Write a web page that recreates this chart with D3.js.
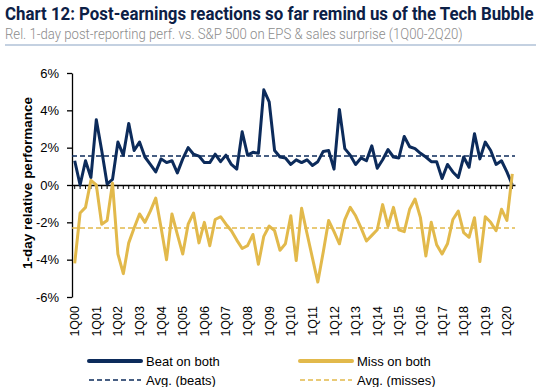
<!DOCTYPE html>
<html>
<head>
<meta charset="utf-8">
<script src="https://cdn.jsdelivr.net/npm/d3@7"></script>
<style>
  body { margin: 0; background: #fff; }
  svg { display: block; font-family: "Liberation Sans", Arial, sans-serif; }
</style>
</head>
<body>
<svg id="chart" width="540" height="387"></svg>
<script>
// year labels shown on the x axis (first quarter of each year)
const yearLabels = ['1Q00', '1Q01', '1Q02', '1Q03', '1Q04', '1Q05', '1Q06', '1Q07', '1Q08', '1Q09', '1Q10',
                    '1Q11', '1Q12', '1Q13', '1Q14', '1Q15', '1Q16', '1Q17', '1Q18', '1Q19', '1Q20'];

// every quarter 1Q00 .. 2Q20
const quarters = [];
yearLabels.forEach(lbl => {
    const yy = lbl.slice(2);
    for (let q = 1; q <= 4; q++) quarters.push(q + 'Q' + yy);
});
quarters.length = 82;

// rel. 1-day performance, %
const beatOnBoth = [
    1.3, 0.0, 1.3, 0.4, 3.5, 1.85, 0.05, 0.3, 2.3, 1.6,
    3.3, 1.85, 2.3, 1.5, 1.1, 0.7, 1.4, 1.2, 1.3, 0.65,
    1.4, 2.0, 1.65, 1.55, 1.2, 1.2, 1.65, 1.25, 1.6, 1.1,
    0.85, 2.85, 1.6, 1.75, 1.7, 5.1, 4.45, 1.85, 1.5, 1.45,
    1.1, 1.35, 1.2, 1.35, 1.05, 1.25, 1.8, 1.85, 0.85, 4.05,
    1.95, 1.6, 1.1, 1.45, 1.3, 2.1, 0.9, 1.35, 1.9, 1.5,
    1.45, 2.6, 2.05, 1.95, 1.7, 1.5, 1.25, 1.25, 0.35, 1.1,
    0.7, 0.4, 1.5, 0.95, 2.75, 1.4, 2.3, 1.85, 1.1, 1.3,
    0.7, 0.0
];
const missOnBoth = [
    -4.2, -1.5, -1.2, 0.25, 0.0, -2.1, -1.9, 0.1, -3.7, -4.75,
    -3.1, -2.3, -1.55, -2.0, -1.4, -0.7, -2.3, -4.0, -1.55, -2.65,
    -3.7, -2.1, -1.5, -3.1, -2.0, -3.25, -1.85, -1.7, -2.1, -2.45,
    -2.95, -3.4, -3.25, -2.65, -4.25, -2.75, -2.2, -2.45, -3.5, -3.15,
    -1.65, -4.05, -1.25, -2.6, -3.9, -5.2, -3.6, -1.9, -2.5, -3.15,
    -1.85, -1.2, -1.65, -2.3, -3.0, -2.7, -2.4, -1.05, -2.2, -1.2,
    -2.4, -2.5, -1.3, -0.75, -1.75, -3.8, -2.0, -3.2, -3.7, -3.15,
    -1.85, -1.4, -2.55, -2.8, -1.75, -4.1, -1.7, -2.0, -2.45, -1.3,
    -1.9, 0.6
];
const avgBeats = 1.55;
const avgMisses = -2.3;
const yTicks = [-6, -4, -2, 0, 2, 4, 6];

const navy = '#0c2b5b';
const gold = '#e2b94b';

const svg = d3.select('#chart');

// squeeze a text horizontally so it spans the given width (condensed house font)
function fitText(sel, x, yPos, width) {
    const w = sel.node().getComputedTextLength();
    sel.attr('transform', `translate(${x},${yPos}) scale(${Math.min(1, width / w)},1)`);
}

// title block
const title = svg.append('text')
    .style('font-family', 'Roboto, "Liberation Sans", sans-serif')
    .style('font-weight', 700).style('font-size', '19px')
    .style('fill', '#0c2046')
    .text('Chart 12: Post-earnings reactions so far remind us of the Tech Bubble');
fitText(title, 5, 20, 529);

const subtitle = svg.append('text')
    .style('font-family', 'Roboto, "Liberation Sans", sans-serif')
    .style('font-weight', 300).style('font-size', '14px')
    .style('fill', '#8c8c8c')
    .text('Rel. 1-day post-reporting perf. vs. S&P 500 on EPS & sales surprise (1Q00-2Q20)');
fitText(subtitle, 5, 39, 458);

svg.append('line')
    .attr('x1', 5).attr('x2', 536).attr('y1', 45).attr('y2', 45)
    .style('stroke', '#8aa3c4').style('stroke-width', 1.2);

// scales
const x = d3.scaleBand().domain(quarters).range([72, 515]);
const y = d3.scaleLinear().domain([-6, 6]).range([297, 73]);
const cx = q => x(q) + x.bandwidth() / 2;

// y axis
const yAxis = svg.append('g')
    .attr('transform', 'translate(72,0)')
    .call(d3.axisLeft(y).tickValues(yTicks).tickSize(5).tickSizeOuter(0).tickPadding(8)
        .tickFormat(d => d + '%'));
yAxis.selectAll('text').style('font-size', '13px').style('fill', '#000')
    .style('font-family', '"Liberation Sans", Arial, sans-serif');
yAxis.selectAll('line, path').style('stroke', '#000').style('stroke-width', 1.3);

svg.append('text')
    .attr('transform', `translate(27,${(y(6) + y(-6)) / 2 - 2}) rotate(-90)`)
    .attr('text-anchor', 'middle')
    .attr('dy', '0.35em')
    .style('font-weight', 700).style('font-size', '13.5px')
    .text('1-day relative performance');

// zero axis with quarter ticks
const xAxis = svg.append('g')
    .attr('transform', `translate(0,${y(0)})`)
    .call(d3.axisBottom(x).tickSize(4).tickSizeOuter(0).tickFormat(''));
xAxis.selectAll('line').style('stroke', '#000').style('stroke-width', 1);
xAxis.select('path').style('stroke', '#000').style('stroke-width', 1.6);

// year labels
svg.append('g').selectAll('text')
    .data(yearLabels)
    .enter()
    .append('text')
        .attr('transform', d => `translate(${cx(d) + 4.5},306) rotate(-90)`)
        .attr('text-anchor', 'end')
        .style('font-size', '12.5px')
        .text(d => d);

// average lines
[[avgBeats, navy], [avgMisses, gold]].forEach(([v, c]) => {
    svg.append('line')
        .attr('x1', 72).attr('x2', 515)
        .attr('y1', y(v)).attr('y2', y(v))
        .style('stroke', c).style('stroke-width', 1.5)
        .style('stroke-dasharray', '5,3');
});

// series lines
const line = d3.line()
    .x((d, i) => cx(quarters[i]))
    .y(d => y(d));

svg.append('path')
    .datum(beatOnBoth)
    .attr('d', line)
    .style('fill', 'none').style('stroke', navy).style('stroke-width', 3)
    .style('stroke-linejoin', 'round');
svg.append('path')
    .datum(missOnBoth)
    .attr('d', line)
    .style('fill', 'none').style('stroke', gold).style('stroke-width', 3)
    .style('stroke-linejoin', 'round');

// legend
const legendItems = [
    {label: 'Beat on both', color: navy, dash: null, x: 89, y: 361},
    {label: 'Miss on both', color: gold, dash: null, x: 300, y: 361},
    {label: 'Avg. (beats)', color: navy, dash: '5,3', x: 89, y: 380},
    {label: 'Avg. (misses)', color: gold, dash: '5,3', x: 300, y: 380}
];
const legend = svg.append('g').selectAll('g')
    .data(legendItems)
    .enter()
    .append('g')
        .attr('transform', d => `translate(${d.x},${d.y})`);
legend.append('line')
    .attr('x1', 0).attr('x2', 52)
    .style('stroke', d => d.color)
    .style('stroke-width', d => d.dash ? 1.5 : 4)
    .style('stroke-linecap', d => d.dash ? 'butt' : 'round')
    .style('stroke-dasharray', d => d.dash);
legend.append('text')
    .attr('x', 57).attr('dy', '0.35em')
    .style('font-size', '13px')
    .text(d => d.label);
</script>
</body>
</html>
